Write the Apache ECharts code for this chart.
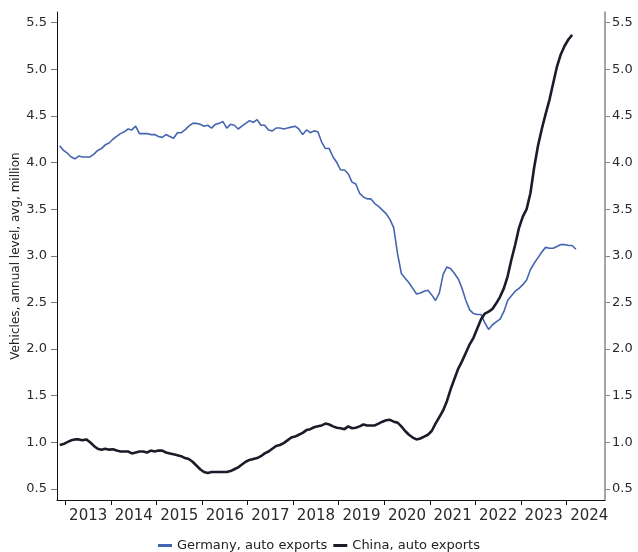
<!DOCTYPE html>
<html>
<head>
<meta charset="utf-8">
<script src="https://cdn.jsdelivr.net/npm/echarts@6/dist/echarts.min.js"></script>
<style>
html,body{margin:0;padding:0;background:#fff;}
#chart{width:638px;height:552px;}
</style>
</head>
<body>
<div id="chart"></div>
<script>
// Monthly series, first month Nov 2012
const startYear = 2012;
const startMonth = 11;

const germany = [
4.18,4.13,4.10,4.06,4.04,4.07,4.06,4.06,4.06,4.09,4.13,4.15,
4.19,4.21,4.25,4.28,4.31,4.33,4.36,4.35,4.39,4.31,4.31,4.31,
4.30,4.30,4.28,4.27,4.30,4.28,4.26,4.32,4.32,4.35,4.39,4.42,
4.42,4.41,4.39,4.40,4.37,4.41,4.42,4.44,4.37,4.41,4.40,4.36,
4.39,4.42,4.45,4.43,4.46,4.40,4.40,4.35,4.34,4.37,4.37,4.36,
4.37,4.38,4.39,4.36,4.30,4.35,4.32,4.34,4.33,4.22,4.15,4.15,
4.06,4.00,3.92,3.92,3.88,3.79,3.77,3.67,3.63,3.61,3.61,3.56,
3.53,3.49,3.45,3.39,3.30,3.02,2.81,2.76,2.71,2.65,2.59,2.60,
2.62,2.63,2.58,2.52,2.60,2.80,2.88,2.86,2.81,2.75,2.65,2.52,
2.42,2.38,2.37,2.37,2.28,2.21,2.26,2.29,2.32,2.40,2.52,2.57,
2.62,2.65,2.69,2.74,2.85,2.92,2.98,3.04,3.09,3.08,3.08,3.10,
3.12,3.12,3.11,3.11,3.07
];

const china = [
0.97,0.98,1.00,1.02,1.03,1.03,1.02,1.03,1.00,0.96,0.93,0.92,
0.93,0.92,0.925,0.91,0.90,0.90,0.90,0.88,0.89,0.90,0.90,0.89,
0.91,0.90,0.91,0.91,0.89,0.88,0.87,0.86,0.85,0.83,0.82,0.79,
0.75,0.71,0.68,0.67,0.68,0.68,0.68,0.68,0.68,0.69,0.71,0.73,
0.76,0.79,0.81,0.82,0.83,0.85,0.88,0.90,0.93,0.96,0.97,0.99,
1.02,1.05,1.06,1.08,1.10,1.13,1.14,1.16,1.17,1.18,1.20,1.19,
1.17,1.155,1.15,1.14,1.17,1.15,1.155,1.17,1.19,1.18,1.18,1.18,
1.20,1.22,1.235,1.24,1.22,1.21,1.17,1.12,1.08,1.05,1.03,1.04,
1.06,1.08,1.12,1.20,1.27,1.34,1.44,1.57,1.68,1.79,1.87,1.96,
2.05,2.12,2.22,2.32,2.38,2.40,2.43,2.49,2.56,2.65,2.78,2.96,
3.12,3.30,3.42,3.50,3.67,3.95,4.18,4.36,4.52,4.67,4.85,5.03,
5.16,5.25,5.32,5.37
];

const yearTicks = [2013,2014,2015,2016,2017,2018,2019,2020,2021,2022,2023,2024];
const yTicks = [0.5,1.0,1.5,2.0,2.5,3.0,3.5,4.0,4.5,5.0,5.5];

const seriesNames = ['Germany, auto exports', 'China, auto exports'];
const yTitle = 'Vehicles, annual level, avg, million';

// month position on a fractional-year axis (mid-month)
function monthPos(i){ return startYear + (startMonth - 0.5 + i) / 12; }
const gData = germany.map((v,i)=>[monthPos(i), v]);
const cData = china.map((v,i)=>[monthPos(i), v]);
const yearLabelPos = yearTicks.map(y => y + 0.5);

const FONT = 'DejaVu Sans';
const chart = echarts.init(document.getElementById('chart'), null, {renderer:'canvas'});

const yCommon = {
  type:'value', min:0.38, max:5.615,
  splitLine:{show:false},
};

chart.setOption({
  animation:false,
  backgroundColor:'#fff',
  grid:{left:57, right:33, top:12, bottom:52, containLabel:false, outerBoundsMode:'none'},
  legend:{
    top:534, left:'center',
    itemWidth:14, itemHeight:3, itemGap:6, icon:'rect',
    textStyle:{fontFamily:FONT, fontSize:13, color:'#222'},
    data:[
      {name:seriesNames[0], itemStyle:{color:'#4565B0'}},
      {name:seriesNames[1], itemStyle:{color:'#1B1B2A'}}
    ]
  },
  xAxis:{
    type:'value', min:2012.815, max:2024.846,
    splitLine:{show:false},
    axisLine:{show:true, lineStyle:{color:'#111', width:1}},
    axisTick:{show:true, length:5, customValues:yearTicks, lineStyle:{color:'#111'}},
    axisLabel:{
      customValues:yearLabelPos, margin:9,
      fontFamily:FONT, fontSize:15, color:'#2a2a2a',
      formatter:(v)=>String(Math.floor(v))
    }
  },
  yAxis:[
    Object.assign({}, yCommon, {
      position:'left',
      name:yTitle, nameLocation:'middle', nameGap:35, nameRotate:90, nameMoveOverlap:false,
      nameTextStyle:{fontFamily:FONT, fontSize:12, color:'#222'},
      axisLine:{show:true, lineStyle:{color:'#111', width:1}},
      axisTick:{show:true, length:6, customValues:yTicks, lineStyle:{color:'#777'}},
      axisLabel:{customValues:yTicks, margin:10, fontFamily:FONT, fontSize:13, color:'#2a2a2a',
        formatter:(v)=>v.toFixed(1)}
    }),
    Object.assign({}, yCommon, {
      position:'right',
      axisLine:{show:true, lineStyle:{color:'#888', width:1.5}},
      axisTick:{show:true, length:5, customValues:yTicks, lineStyle:{color:'#888'}},
      axisLabel:{customValues:yTicks, margin:7, fontFamily:FONT, fontSize:13, color:'#2a2a2a',
        formatter:(v)=>v.toFixed(1)}
    })
  ],
  series:[
    {name:seriesNames[0], type:'line', data:gData, showSymbol:false, symbol:'none',
     lineStyle:{color:'#4565B0', width:1.6}, itemStyle:{color:'#4565B0'}, z:2},
    {name:seriesNames[1], type:'line', data:cData, showSymbol:false, symbol:'none',
     lineStyle:{color:'#1B1B2A', width:2.6}, itemStyle:{color:'#1B1B2A'}, z:3}
  ]
});
</script>
</body>
</html>
